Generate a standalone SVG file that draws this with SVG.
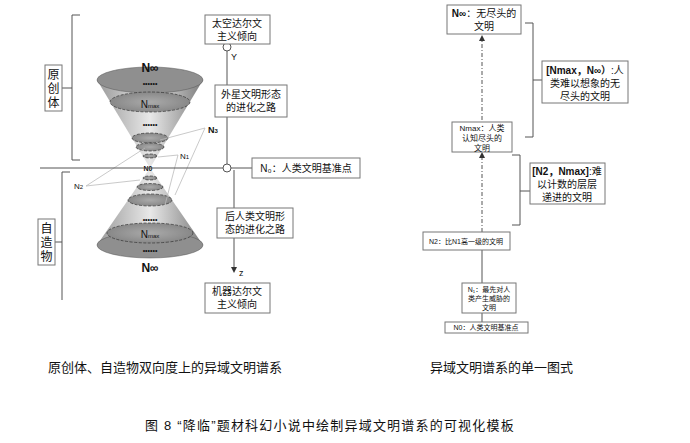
<svg xmlns="http://www.w3.org/2000/svg" width="690" height="443" viewBox="0 0 690 443">
<defs>
<linearGradient id="cg" x1="0" x2="1" y1="0" y2="0"><stop offset="0" stop-color="#9a9a9a"/><stop offset="0.5" stop-color="#e8e8e8"/><stop offset="1" stop-color="#7d7d7d"/></linearGradient>
<radialGradient id="eg"><stop offset="0" stop-color="#aaa"/><stop offset="1" stop-color="#888"/></radialGradient>
<marker id="ar" markerWidth="6" markerHeight="6" refX="3" refY="3" orient="auto"><path d="M0,0L6,3L0,6z" fill="#333"/></marker>
</defs>
<style>
text{font-family:"Liberation Sans","Noto Sans CJK SC",sans-serif;fill:#111}
.b{fill:#fff;stroke:#777;stroke-width:1}
.t{font-size:10px;text-anchor:middle}
.t7{font-size:7px;text-anchor:middle}
.t8{font-size:8px;text-anchor:middle}
.t13{font-size:12px;text-anchor:middle}
.s{font-size:7px;text-anchor:middle}
.ln{stroke:#555;fill:none;stroke-width:1}
.g{stroke:#bbb;fill:none;stroke-width:0.8}
.el{fill:url(#eg);stroke:#333;stroke-width:0.7;stroke-dasharray:3 1.5}
.nl{font-weight:bold;font-size:12px;text-anchor:middle}
.nm{font-size:10px;text-anchor:middle}
</style>
<rect width="690" height="443" fill="#fff"/>
<g id="cones">
<path d="M97,80 L150,168 L203,80 Z" fill="url(#cg)"/>
<ellipse cx="150" cy="80" rx="53" ry="13" fill="#8f8f8f" stroke="#555" stroke-width="0.5"/>
<ellipse class="el" cx="150" cy="102" rx="40" ry="10"/>
<ellipse class="el" cx="150" cy="138" rx="18" ry="5"/>
<ellipse class="el" cx="150" cy="147" rx="14" ry="4"/>
<ellipse class="el" cx="150" cy="156" rx="7" ry="2"/>
<path d="M97,245 L150,168 L203,245 Z" fill="url(#cg)"/>
<ellipse cx="150" cy="245" rx="53" ry="13" fill="#8f8f8f" stroke="#555" stroke-width="0.5"/>
<ellipse class="el" cx="150" cy="233" rx="43" ry="10"/>
<ellipse class="el" cx="150" cy="200" rx="22" ry="6"/>
<ellipse class="el" cx="150" cy="187" rx="13" ry="3.5"/>
<ellipse class="el" cx="150" cy="178" rx="7" ry="2"/>
<text class="nl" x="150" y="72">N∞</text>
<text class="nl" x="150" y="272">N∞</text>
<text x="150" y="108" class="nm">N<tspan style="font-size:6px">max</tspan></text>
<text x="150" y="238" class="nm">N<tspan style="font-size:6px">max</tspan></text>
<text class="s" x="150" y="86">••••••</text>
<text class="s" x="150" y="127">••••••</text>
<text class="s" x="150" y="222">••••••</text>
<text class="s" x="150" y="253">••••••</text>
<text x="148" y="171" class="s" font-weight="bold">N0</text>
</g>
<g id="callouts">
<path class="g" d="M205,128 L160,140 M205,128 L175,195"/>
<path class="g" d="M178,155 L158,157 M178,155 L165,205"/>
<path class="g" d="M86,186 L145,148 M86,186 L140,180"/>
<text x="208" y="133" font-size="9" font-weight="bold">N<tspan font-size="6">3</tspan></text>
<text x="180" y="159" font-size="8">N<tspan font-size="6">1</tspan></text>
<text x="74" y="189" font-size="8">N<tspan font-size="6">2</tspan></text>
</g>
<g id="connectors">
<line class="ln" x1="40" y1="168" x2="223" y2="168"/>
<line class="ln" x1="231" y1="168" x2="252" y2="168"/>
<line class="ln" x1="227" y1="51" x2="227" y2="164"/>
<line class="ln" x1="234" y1="170" x2="234" y2="270" marker-end="url(#ar)"/>
<path class="ln" d="M80,15 L72,15 L72,160 L80,160 M72,88 L62,88"/>
<path class="ln" d="M70,172 L62,172 L62,300 M62,242 L55,242"/>
<line class="ln" x1="482" y1="120" x2="482" y2="38" stroke-dasharray="4 2 1 2" marker-end="url(#ar)"/>
<line class="ln" x1="482" y1="232" x2="482" y2="155" stroke-dasharray="4 2 1 2" marker-end="url(#ar)"/>
<line class="ln" x1="482" y1="250" x2="482" y2="283"/>
<line class="ln" x1="482" y1="313" x2="482" y2="322"/>
<path class="ln" d="M525,23 L533,23 L533,137 L525,137 M533,80 L542,80"/>
<path class="ln" d="M512,155 L520,155 L520,225 L512,225 M520,191 L530,191"/>
</g>
<circle cx="227" cy="47" r="4" fill="#fff" stroke="#555"/>
<circle cx="227" cy="168" r="4" fill="#fff" stroke="#555"/>
<text x="231" y="60" font-size="9">Y</text>
<text x="239" y="276" font-size="9">z</text>
<g id="n-top"><rect class="b" x="205" y="15" width="65" height="29"/><text class="t" x="237" y="27">太空达尔文</text><text class="t" x="237" y="40">主义倾向</text></g>
<g id="n-alien"><rect class="b" x="215" y="85" width="72" height="32"/><text class="t" x="251" y="98">外星文明形态</text><text class="t" x="251" y="111">的进化之路</text></g>
<g id="n-n0"><rect class="b" x="252" y="158" width="108" height="20"/><text class="t" x="306" y="172">N₀：人类文明基准点</text></g>
<g id="n-post"><rect class="b" x="217" y="208" width="76" height="30"/><text class="t" x="255" y="220">后人类文明形</text><text class="t" x="255" y="233">态的进化之路</text></g>
<g id="n-machine"><rect class="b" x="205" y="283" width="65" height="30"/><text class="t" x="237" y="295">机器达尔文</text><text class="t" x="237" y="308">主义倾向</text></g>
<g id="n-yuan"><rect class="b" x="45" y="65" width="17" height="46"/><text class="t13" x="53.5" y="79">原</text><text class="t13" x="53.5" y="93">创</text><text class="t13" x="53.5" y="107">体</text></g>
<g id="n-zi"><rect class="b" x="38" y="219" width="17" height="46"/><text class="t13" x="46.5" y="233">自</text><text class="t13" x="46.5" y="247">造</text><text class="t13" x="46.5" y="261">物</text></g>
<g id="r-ninf"><rect class="b" x="447" y="5" width="74" height="29"/><text class="t" x="484" y="17"><tspan font-weight="bold">N∞</tspan>：无尽头的</text><text class="t" x="484" y="30">文明</text></g>
<g id="r-nmax"><rect class="b" x="452" y="122" width="60" height="30"/><text class="t8" x="482" y="131">Nmax：人类</text><text class="t8" x="482" y="141">认知尽头的</text><text class="t8" x="482" y="151">文明</text></g>
<g id="r-n2"><rect class="b" x="423" y="232" width="87" height="18"/><text class="t7" x="466" y="244">N2：比N1高一级的文明</text></g>
<g id="r-n1"><rect class="b" x="462" y="283" width="54" height="30"/><text class="t7" x="489" y="292">N₁：最先对人</text><text class="t7" x="489" y="301">类产生威胁的</text><text class="t7" x="489" y="310">文明</text></g>
<g id="r-n0"><rect class="b" x="445" y="322" width="83" height="11"/><text class="t7" x="486" y="330">N0：人类文明基准点</text></g>
<g id="r-b1"><rect class="b" x="542" y="61" width="86" height="42"/><text class="t" x="585" y="74"><tspan font-weight="bold">[Nmax，N∞）</tspan>:人</text><text class="t" x="585" y="87">类难以想象的无</text><text class="t" x="585" y="100">尽头的文明</text></g>
<g id="r-b2"><rect class="b" x="530" y="163" width="75" height="41"/><text class="t" x="567" y="175"><tspan font-weight="bold">[N2，Nmax]</tspan>:难</text><text class="t" x="567" y="188">以计数的层层</text><text class="t" x="567" y="201">递进的文明</text></g>
<text x="48" y="372" font-size="13">原创体、自造物双向度上的异域文明谱系</text>
<text x="430" y="372" font-size="13">异域文明谱系的单一图式</text>
<text x="145" y="430" font-size="13" letter-spacing="1.2">图 8 “降临”题材科幻小说中绘制异域文明谱系的可视化模板</text>
</svg>
